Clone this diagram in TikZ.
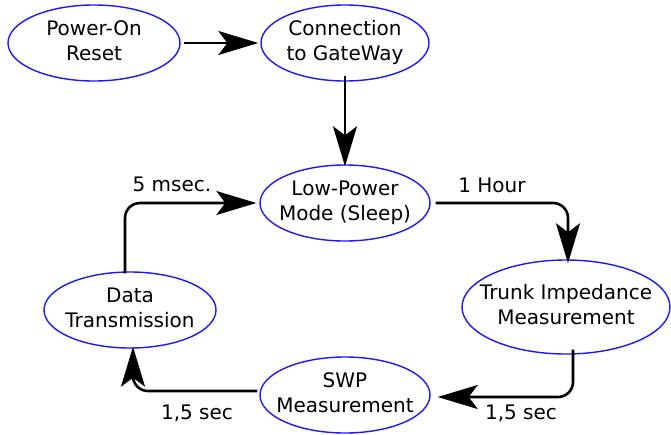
\documentclass[tikz,border=0pt]{standalone}
\usepackage{fontspec}
\setmainfont{DejaVu Sans}
\usetikzlibrary{shapes.geometric,arrows.meta}
\definecolor{stblue}{RGB}{25,25,250}
\tikzset{
  st/.style={ellipse, draw=stblue, line width=1.4pt, inner sep=0pt, font=\fontsize{20}{25.5}\selectfont},
  conn/.style={line width=2.6pt, rounded corners=15pt, -{Stealth[length=40pt,width=24pt,inset=9pt]}},
  lbl/.style={font=\fontsize{20}{25}\selectfont, inner sep=0pt}
}
\newcommand{\twol}[2]{\makebox[0pt][c]{\begin{tabular}{@{}c@{}}#1\\#2\end{tabular}}}
\begin{document}
\begin{tikzpicture}[x=1pt,y=-1pt]
\useasboundingbox (0,0) rectangle (671,434);
\node[st, minimum width=172pt, minimum height=76pt] (por) at (94,43) {\twol{Power-On}{Reset}};
\node[st, minimum width=168pt, minimum height=76pt] (con) at (345,43) {\twol{Connection}{to GateWay}};
\node[st, minimum width=170pt, minimum height=76pt] (lp) at (345,203) {\twol{Low-Power}{Mode (Sleep)}};
\node[st, minimum width=208pt, minimum height=94pt] (tr) at (566,307) {\twol{Trunk Impedance}{Measurement}};
\node[st, minimum width=170pt, minimum height=76pt] (swp) at (345,395) {\twol{SWP}{Measurement}};
\node[st, minimum width=172pt, minimum height=76pt] (dt) at (130,310) {\twol{Data}{Transmission}};

\draw[conn] ([xshift=3pt]por.east) -- ([xshift=-2pt]con.west);
\draw[conn] ([yshift=6pt]con.south) -- ([yshift=-2pt]lp.north);
\draw[conn] ([xshift=5pt]lp.east) -| ([xshift=2pt,yshift=-4pt]tr.north);
\draw[conn] ([xshift=7pt,yshift=5pt]tr.south) |- ([xshift=7pt,yshift=-2pt]swp.east);
\draw[conn] ([xshift=-2pt,yshift=4pt]swp.west) -| ([xshift=3pt,yshift=2pt]dt.south);
\draw[conn] ([xshift=-5pt,yshift=-2pt]dt.north) |- ([xshift=-3pt]lp.west);

\node[lbl] (l1) at (172,184) {5 msec.};
\node[lbl] (l2) at (492,185) {1 Hour};
\node[lbl] (l3) at (521,413) {1,5 sec};
\node[lbl] (l4) at (197,413) {1,5 sec};
\end{tikzpicture}
\end{document}
